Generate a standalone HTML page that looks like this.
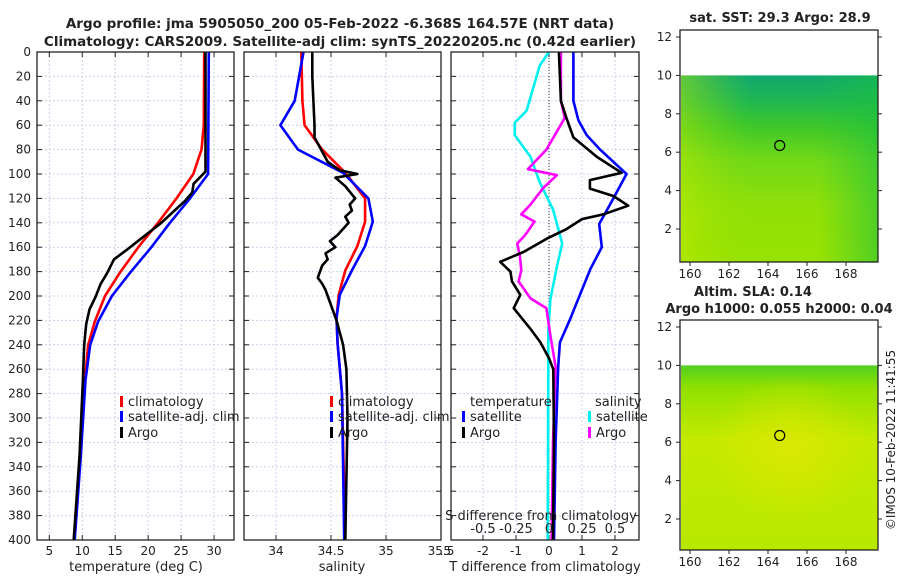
<!DOCTYPE html>
<html><head><meta charset="utf-8"><style>
html,body{margin:0;padding:0;background:#fff}
svg{display:block;font-family:"DejaVu Sans","Liberation Sans",sans-serif}
</style></head><body>
<svg id="fig" width="900" height="580" viewBox="0 0 900 580" xmlns="http://www.w3.org/2000/svg">
<defs>
<linearGradient id="sstV" x1="0" y1="0" x2="0" y2="1">
<stop offset="0" stop-color="#10a870"/><stop offset="0.14" stop-color="#20b850"/><stop offset="0.28" stop-color="#40c828"/><stop offset="0.45" stop-color="#70d818"/><stop offset="0.7" stop-color="#90e008"/><stop offset="1" stop-color="#98e200"/></linearGradient>
<linearGradient id="sstH" x1="0" y1="0" x2="1" y2="0">
<stop offset="0" stop-color="#c8ec00" stop-opacity="0.45"/><stop offset="0.35" stop-color="#a0e000" stop-opacity="0"/><stop offset="0.7" stop-color="#20c040" stop-opacity="0"/><stop offset="1" stop-color="#18c040" stop-opacity="0.55"/></linearGradient>
<linearGradient id="slaV" x1="0" y1="0" x2="0" y2="1">
<stop offset="0" stop-color="#50d020"/><stop offset="0.12" stop-color="#90e000"/><stop offset="0.4" stop-color="#c4ea00"/><stop offset="1" stop-color="#b8e800"/></linearGradient>
<radialGradient id="slaR" cx="0.55" cy="0.45" r="0.4"><stop offset="0" stop-color="#e0e800" stop-opacity="0.8"/><stop offset="1" stop-color="#e0e800" stop-opacity="0"/></radialGradient>
</defs>
<g id="root"></g>
</svg>
<script>
// ---- data ----
const tickDepths=[0,20,40,60,80,100,120,140,160,180,200,220,240,260,280,300,320,340,360,380,400];
const tempTicks=[5,10,15,20,25,30];
const salTicks=[34,34.5,35,35.5];
const salTickLabels=["34","34.5","35","35.5"];
const tdiffTicks=[-2,-1,0,1,2];
const sdiffTicks=[-0.5,-0.25,0,0.25,0.5];
const sdiffTickLabels=["-0.5","-0.25","0","0.25","0.5"];
const lonTicks=[160,162,164,166,168];
const latTicks=[2,4,6,8,10,12];

const climTDepth=[0,60,80,100,120,140,160,181,200,221,240,269,330,400];
const climT=[28.5,28.45,28.1,26.85,24.3,21.5,18.5,15.7,13.45,11.9,10.9,10.4,9.7,8.75];
const satTDepth=[0,100,120,140,160,181,200,221,240,269,330,400];
const satT=[29.2,29.1,26.35,23.3,20.5,17.25,14.5,12.4,11.2,10.5,9.8,8.85];
const argoTDepth=[0,98,102,108,115,122,132,140,151,162,170,181,190,201,211,223,240,269,330,400];
const argoT=[28.7,28.7,28.0,26.9,26.7,25.6,23.6,22.0,19.4,16.8,14.8,13.8,12.8,12.0,11.1,10.6,10.3,10.1,9.6,8.7];

const salDepth=[0,40,60,80,99,120,139,159,179,199,218,239,280,400];
const climS=[34.23,34.24,34.26,34.42,34.63,34.81,34.81,34.74,34.63,34.57,34.55,34.56,34.60,34.63];
const satS=[34.25,34.17,34.04,34.20,34.61,34.84,34.88,34.81,34.69,34.58,34.55,34.56,34.60,34.62];
const argoSDepth=[0,20,40,60,70,80,90,97,100,103,110,120,125,130,135,140,145,150,155,160,165,170,175,180,185,190,195,200,210,220,240,260,300,400];
const argoS=[34.33,34.33,34.34,34.35,34.35,34.41,34.47,34.58,34.74,34.54,34.63,34.72,34.67,34.69,34.63,34.66,34.61,34.56,34.49,34.54,34.45,34.47,34.42,34.40,34.38,34.42,34.45,34.47,34.51,34.55,34.61,34.64,34.65,34.63];

const dTsatDepth=[0,40,56,68,80,100,120,141,160,178,198,219,238,258,320,400];
const dTsat=[0.74,0.74,0.89,1.14,1.55,2.35,1.95,1.52,1.6,1.25,0.95,0.64,0.33,0.28,0.2,0.15];
const dTargoDepth=[0,40,55,70,86,99,105,112,118,126,133,137,145,153,164,172,180,188,199,210,227,238,251,260,320,400];
const dTargo=[0.3,0.36,0.54,0.74,1.45,2.2,1.24,1.24,1.95,2.4,1.65,1.0,0.54,-0.07,-0.78,-1.48,-1.17,-1.12,-0.87,-1.07,-0.56,-0.26,0,0.13,0.15,0.12];
const dSsatDepth=[0,11,48,58,68,86,107,129,157,176,203,230,260,400];
const dSsat=[0,-0.07,-0.17,-0.26,-0.26,-0.14,-0.07,0.03,0.10,0.06,0.01,-0.005,-0.005,-0.01];
const dSargoDepth=[0,40,54,80,96,101,111,125,133,139,150,157,168,179,188,202,210,232,258,320,400];
const dSargo=[0.09,0.09,0.12,-0.02,-0.16,0.06,-0.04,-0.14,-0.21,-0.11,-0.18,-0.24,-0.22,-0.21,-0.23,-0.14,-0.02,0.01,0.05,0.03,0.02];

const argoLon=[164.6];
const argoLat=[6.35];

// ---- helpers ----
const NS="http://www.w3.org/2000/svg";
const root=document.getElementById('root');
function el(tag,attrs,parent,txt){const e=document.createElementNS(NS,tag);for(const k in attrs)e.setAttribute(k,attrs[k]);if(txt!==undefined)e.textContent=txt;(parent||root).appendChild(e);return e;}
const top0=52,bot0=540;
const yD=d=>top0+(d/400)*(bot0-top0);
const xT=t=>49.3+(t-5)*6.59;
const xS=s=>276+(s-34)*110;
const xdT=v=>549+v*33;
const xdS=v=>549+v*132;

function panel(name){
  const g=el('g',{});
  
  
  return g;
}
function grid(g,x0,x1,xs){
  tickDepths.forEach(d=>{ if(d>0&&d<400) el('line',{x1:x0,x2:x1,y1:yD(d),y2:yD(d),stroke:'#c8d0ec','stroke-width':1,'stroke-dasharray':'2,2'},g);
    el('line',{x1:x0,x2:x0+5,y1:yD(d),y2:yD(d),stroke:'#222'},g);
    el('line',{x1:x1-5,x2:x1,y1:yD(d),y2:yD(d),stroke:'#222'},g);});
  xs.forEach(x=>{ el('line',{x1:x,x2:x,y1:top0,y2:bot0,stroke:'#c8d0ec','stroke-dasharray':'2,2'},g);
    el('line',{x1:x,x2:x,y1:bot0-5,y2:bot0,stroke:'#222'},g);
    el('line',{x1:x,x2:x,y1:top0,y2:top0+5,stroke:'#222'},g);});
}
function frame(g,x0,x1){el('rect',{x:x0,y:top0,width:x1-x0,height:bot0-top0,fill:'none',stroke:'#222','stroke-width':1.3},g);}
function line(g,xs,ds,xf,color,name,w){
  const pts=xs.map((v,i)=>xf(v).toFixed(1)+','+yD(ds[i]).toFixed(1)).join(' ');
  const p=el('polyline',{points:pts,fill:'none',stroke:color,'stroke-width':w||2.6,'stroke-linejoin':'round'},g);
  
  
}
function text(g,x,y,s,opt){opt=opt||{};return el('text',Object.assign({x:x,y:y,'font-size':opt.size||12,fill:opt.fill||'#222','text-anchor':opt.anchor||'middle','font-weight':opt.weight||'normal'},opt.extra||{}),g,s);}
function legendEntry(g,x,y,color,label){
  const e=el('g',{},g);
  
  
  el('rect',{x:x,y:y-10,width:3,height:11,fill:color},e);
  text(e,x+8,y,label,{anchor:'start',size:13});
}

// titles
const t1=text(root,340,28,'Argo profile: jma 5905050_200 05-Feb-2022 -6.368S 164.57E (NRT data)',{size:13.5,weight:'bold'});

const t2=text(root,340,46,'Climatology: CARS2009. Satellite-adj clim: synTS_20220205.nc (0.42d earlier)',{size:13.5,weight:'bold'});


// depth axis labels
const ya=el('g',{});
tickDepths.forEach(d=>text(ya,31,yD(d)+4,String(d),{anchor:'end'}));

// panel 1 temperature
const p1=panel('temperature-panel');
grid(p1,37,234,tempTicks.map(xT));
tempTicks.forEach(t=>text(p1,xT(t),555,String(t)));
text(p1,136,571,'temperature (deg C)',{size:13});
line(p1,climT,climTDepth,xT,'#ff0000','climatology-temp-line');
line(p1,satT,satTDepth,xT,'#0000ff','satellite-temp-line');
line(p1,argoT,argoTDepth,xT,'#000','argo-temp-line');
frame(p1,37,234);
legendEntry(p1,120,406,'#ff0000','climatology');
legendEntry(p1,120,421,'#0000ff','satellite-adj. clim');
legendEntry(p1,120,437,'#000','Argo');

// panel 2 salinity
const p2=panel('salinity-panel');
grid(p2,244,441,salTicks.map(xS));
salTicks.forEach((s,i)=>text(p2,xS(s),555,salTickLabels[i]));
text(p2,342,571,'salinity',{size:13});
line(p2,climS,salDepth,xS,'#ff0000','climatology-salinity-line');
line(p2,satS,salDepth,xS,'#0000ff','satellite-salinity-line');
line(p2,argoS,argoSDepth,xS,'#000','argo-salinity-line');
frame(p2,244,441);
legendEntry(p2,330,406,'#ff0000','climatology');
legendEntry(p2,330,421,'#0000ff','satellite-adj. clim');
legendEntry(p2,330,437,'#000','Argo');

// panel 3 differences
const p3=panel('difference-panel');
grid(p3,451,639,tdiffTicks.map(xdT));
el('line',{x1:549,x2:549,y1:top0,y2:bot0,stroke:'#334','stroke-dasharray':'1,2'},p3);
tdiffTicks.forEach(v=>text(p3,xdT(v),555,String(v)));
text(p3,451,555,'.5',{anchor:'end'});
text(p3,545,571,'T difference from climatology',{size:13});
line(p3,dSsat,dSsatDepth,xdS,'#00f0f0','satellite-salinity-diff-line');
line(p3,dSargo,dSargoDepth,xdS,'#ff00ff','argo-salinity-diff-line');
line(p3,dTsat,dTsatDepth,xdT,'#0000ff','satellite-temp-diff-line');
line(p3,dTargo,dTargoDepth,xdT,'#000','argo-temp-diff-line');
frame(p3,451,639);
text(p3,541,520,'S difference from climatology',{size:13});
sdiffTicks.forEach((v,i)=>text(p3,xdS(v),533,sdiffTickLabels[i],{size:13}));
text(p3,470,406,'temperature',{anchor:'start',size:13});
legendEntry(p3,462,421,'#0000ff','satellite');
legendEntry(p3,462,437,'#000','Argo');
text(p3,595,406,'salinity',{anchor:'start',size:13});
legendEntry(p3,588,421,'#00f0f0','satellite');
legendEntry(p3,588,437,'#ff00ff','Argo');

// maps
const xLon=l=>690+(l-160)*19.5;
function mapPanel(name,y12,y2,plotTop,plotBot,grad1,grad2){
  const g=panel(name);
  const sc=(y2-y12)/10;
  const yL=l=>y12+(12-l)*sc;
  el('rect',{x:681,y:yL(10),width:197,height:plotBot-yL(10),fill:'url(#'+grad1+')'},g);
  el('rect',{x:681,y:yL(10),width:197,height:plotBot-yL(10),fill:'url(#'+grad2+')'},g);
  el('rect',{x:680,y:plotTop,width:198,height:plotBot-plotTop,fill:'none',stroke:'#222','stroke-width':1.3},g);
  lonTicks.forEach(l=>{el('line',{x1:xLon(l),x2:xLon(l),y1:plotBot,y2:plotBot+4,stroke:'#222'},g);text(g,xLon(l),plotBot+16,String(l));});
  latTicks.forEach(l=>{el('line',{x1:676,x2:680,y1:yL(l),y2:yL(l),stroke:'#222'},g);el('line',{x1:878,x2:882,y1:yL(l),y2:yL(l),stroke:'#222'},g);text(g,672,yL(l)+4,String(l),{anchor:'end'});});
  argoLon.forEach((lo,i)=>{const c=el('circle',{cx:xLon(lo),cy:yL(argoLat[i]),r:5,fill:'none',stroke:'#000','stroke-width':1.2},g);
    });
  return g;
}
const m1=mapPanel('sst-map',37,229,30,262,'sstV','sstH');
text(m1,780,22,'sat. SST: 29.3 Argo: 28.9',{size:13,weight:'bold'});
const m2=mapPanel('sla-map',327,519,320,550,'slaV','slaR');
text(m2,753,296,'Altim. SLA: 0.14',{size:13,weight:'bold'});
text(m2,779,313,'Argo h1000: 0.055 h2000: 0.04',{size:13,weight:'bold'});

const cr=text(root,0,0,'©IMOS 10-Feb-2022 11:41:55',{size:12,extra:{transform:'translate(895,440) rotate(-90)'}});

</script>
</body></html>
